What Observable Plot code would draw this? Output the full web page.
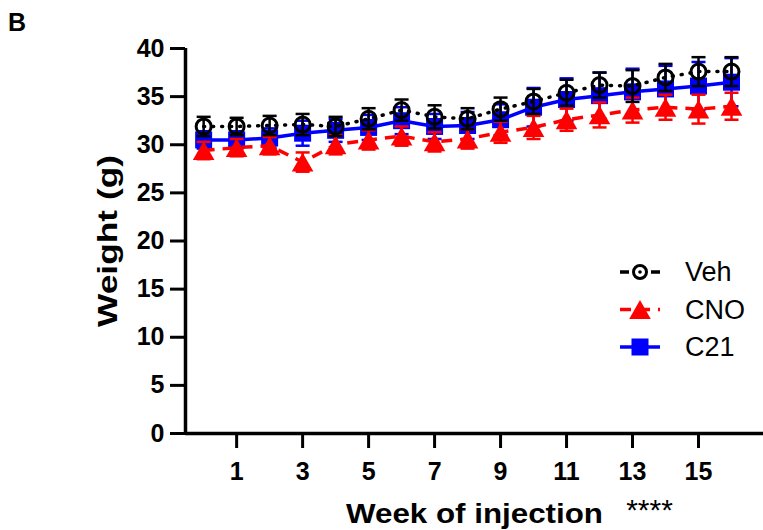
<!DOCTYPE html>
<html>
<head>
<meta charset="utf-8">
<script src="https://cdn.jsdelivr.net/npm/d3@7"></script>
<script src="https://cdn.jsdelivr.net/npm/@observablehq/plot@0.6"></script>
<style>
  html, body { margin: 0; padding: 0; background: #fff; }
</style>
</head>
<body>
<div id="chart"></div>
<script>
// ---- data ----
const weeks = [0, 1, 2, 3, 4, 5, 6, 7, 8, 9, 10, 11, 12, 13, 14, 15, 16];
const groups = ["Veh", "CNO", "C21"];
const vehMean = [31.9, 31.9, 32.0, 32.1, 31.9, 32.7, 33.6, 32.9, 32.7, 33.7, 34.5, 35.4, 36.2, 36.1, 37.0, 37.6, 37.6];
const vehSem  = [1.0, 0.9, 1.0, 1.1, 1.0, 1.1, 1.1, 1.2, 1.1, 1.2, 1.3, 1.35, 1.3, 1.65, 1.4, 1.5, 1.5];
const cnoMean = [29.4, 29.7, 29.9, 28.2, 30.0, 30.5, 30.9, 30.3, 30.6, 31.3, 31.8, 32.6, 33.1, 33.6, 33.9, 33.7, 34.0];
const cnoSem  = [0.9, 0.9, 0.9, 1.0, 1.0, 1.0, 1.0, 1.0, 1.0, 1.1, 1.2, 1.15, 1.3, 1.3, 1.3, 1.5, 1.4];
const c21Mean = [30.5, 30.5, 30.7, 31.2, 31.5, 31.8, 32.5, 31.9, 32.0, 32.6, 33.9, 34.7, 35.1, 35.5, 35.8, 36.1, 36.5];
const c21Sem  = [0.9, 0.9, 1.0, 1.3, 1.2, 1.3, 1.4, 1.3, 1.4, 1.6, 2.0, 2.2, 2.4, 2.4, 2.4, 2.5, 2.5];
const yTicks = [0, 5, 10, 15, 20, 25, 30, 35, 40];
const xTicks = [1, 3, 5, 7, 9, 11, 13, 15];
const panelLabel = "B";
const yTitle = "Weight (g)";
const xTitle = "Week of injection";
const sigLabel = "****";

// ---- table ----
const means = {Veh: vehMean, CNO: cnoMean, C21: c21Mean};
const sems = {Veh: vehSem, CNO: cnoSem, C21: c21Sem};
const rows = groups.flatMap(g => weeks.map((w, i) => ({
  group: g, week: w, mean: means[g][i], lo: means[g][i] - sems[g][i], hi: means[g][i] + sems[g][i]
})));

// ---- styles ----
const triangleSym = {draw(ctx, size) {
  const r = Math.sqrt(size / Math.PI);
  const hw = r * 1.2, hh = r * 1.05;
  ctx.moveTo(0, -hh); ctx.lineTo(hw, hh); ctx.lineTo(-hw, hh); ctx.closePath();
}};
const squareSym = {draw(ctx, size) {
  const r = Math.sqrt(size / Math.PI);
  ctx.rect(-r, -r, 2 * r, 2 * r);
}};
const capSym = {draw(ctx, size) {
  const r = Math.sqrt(size / Math.PI);
  ctx.moveTo(-r, 0); ctx.lineTo(r, 0);
}};
const style = {
  Veh: {color: "#000000", dash: "1 8", cap: "round", symbol: "circle", r: 7.5, fill: "none", sw: 3},
  CNO: {color: "#ff0000", dash: "11 8", cap: "butt", symbol: triangleSym, r: 9, fill: "#ff0000", sw: 0},
  C21: {color: "#0000ff", dash: null, cap: "butt", symbol: squareSym, r: 8.5, fill: "#0000ff", sw: 0}
};
const drawOrder = ["C21", "CNO", "Veh"];
const font = "Liberation Sans, Arial, Helvetica, sans-serif";

const seriesMarks = drawOrder.flatMap(g => {
  const s = style[g];
  const data = rows.filter(d => d.group === g);
  return [
    Plot.line(data, {x: "week", y: "mean", stroke: s.color, strokeWidth: 3.5,
      strokeDasharray: s.dash, strokeLinecap: s.cap}),
    Plot.ruleX(data, {x: "week", y1: "lo", y2: "hi", stroke: s.color, strokeWidth: 2.5}),
    Plot.dot(data, {x: "week", y: "hi", symbol: capSym, r: 7, stroke: s.color, strokeWidth: 2.5, fill: "none"}),
    Plot.dot(data, {x: "week", y: "lo", symbol: capSym, r: 7, stroke: s.color, strokeWidth: 2.5, fill: "none"}),
    Plot.dot(data, {x: "week", y: "mean", symbol: s.symbol, r: s.r, fill: s.fill,
      stroke: s.sw ? s.color : "none", strokeWidth: s.sw})
  ];
});

const xDomain = [-0.55, 16.97];

const chart = Plot.plot({
  width: 763,
  height: 530,
  marginLeft: 185,
  marginRight: 0,
  marginTop: 48,
  marginBottom: 97,
  style: {fontFamily: font, background: "#fff", color: "#000", overflow: "visible"},
  x: {domain: xDomain},
  y: {domain: [0, 40]},
  marks: [
    Plot.axisY({ticks: yTicks, tickSize: 15, tickPadding: 6, fontSize: 25, fontWeight: "bold",
      strokeWidth: 3, label: null}),
    Plot.axisX({ticks: xTicks, tickSize: 15, tickPadding: 14, fontSize: 25, fontWeight: "bold",
      strokeWidth: 3, label: null}),
    Plot.ruleX([xDomain[0]], {strokeWidth: 3.5}),
    Plot.ruleY([0], {strokeWidth: 3.5}),
    ...seriesMarks,
    Plot.text([yTitle], {frameAnchor: "left", textAnchor: "middle", lineAnchor: "middle", dx: -77,
      rotate: -90, fontSize: 27, fontWeight: "bold", className: "ytitle"}),
    Plot.text([xTitle], {frameAnchor: "bottom", textAnchor: "middle", lineAnchor: "middle", dy: 81,
      fontSize: 27, fontWeight: "bold", className: "xtitle"}),
    Plot.text([sigLabel], {frameAnchor: "bottom", textAnchor: "middle", lineAnchor: "middle",
      dx: 175, dy: 77, fontSize: 30, fontWeight: "normal"})
  ]
});

const svg = d3.select(chart);
// stretch the axis titles to the reference's wider lettering
svg.selectAll(".xtitle text").attr("textLength", 257).attr("lengthAdjust", "spacingAndGlyphs");
svg.selectAll(".ytitle text").attr("textLength", 172).attr("lengthAdjust", "spacingAndGlyphs");

// panel label
svg.append("text").attr("x", 8).attr("y", 31).attr("text-anchor", "start")
  .style("font", `bold 25px ${font}`)
  .attr("fill", "#000").text(panelLabel);

// ---- legend ----
const lg = svg.append("g").attr("transform", "translate(620,272)");
groups.forEach((g, i) => {
  const s = style[g];
  const row = lg.append("g").attr("transform", `translate(0,${i * 37.5})`);
  row.append("line").attr("x1", 0).attr("x2", 40).attr("y1", 0).attr("y2", 0)
    .attr("stroke", s.color).attr("stroke-width", 3.5)
    .attr("stroke-dasharray", g === "Veh" ? "9 22" : s.dash)
    .attr("stroke-linecap", "butt");
  const p = d3.path();
  const legR = g === "Veh" ? 6.5 : s.r;
  if (s.symbol === "circle") { p.moveTo(legR, 0); p.arc(0, 0, legR, 0, 2 * Math.PI); }
  else s.symbol.draw(p, legR * legR * Math.PI);
  row.append("path").attr("d", p.toString()).attr("transform", "translate(20,0)")
    .attr("fill", s.fill).attr("stroke", s.sw ? s.color : "none").attr("stroke-width", s.sw);
  if (g === "Veh") row.append("circle").attr("cx", 20).attr("cy", 0).attr("r", 1.8).attr("fill", s.color);
  row.append("text").attr("x", 65).attr("y", 0).attr("dy", "0.35em").attr("text-anchor", "start")
    .attr("font-size", 27).attr("font-weight", "normal").attr("font-family", font)
    .attr("fill", "#000").text(g);
});

document.getElementById("chart").appendChild(chart);
</script>
</body>
</html>
